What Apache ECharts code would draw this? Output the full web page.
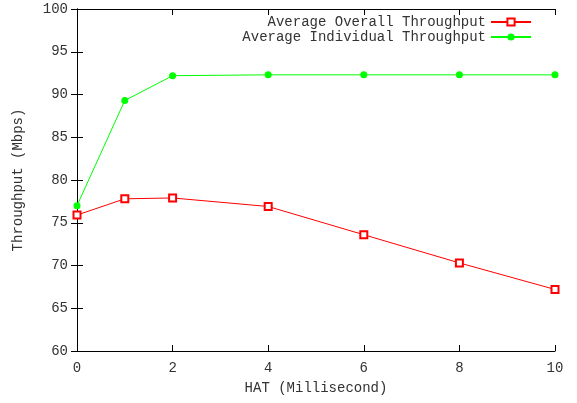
<!DOCTYPE html>
<html>
<head>
<meta charset="utf-8">
<script src="https://cdn.jsdelivr.net/npm/echarts@6/dist/echarts.min.js"></script>
<style>
html, body { margin: 0; padding: 0; background: #fff; }
#chart { width: 577px; height: 403px; }
</style>
</head>
<body>
<div id="chart"></div>
<script>
// 数据
const hatValues = [0, 1, 2, 4, 6, 8, 10];
const overallThroughput = [75.9, 77.8, 77.9, 76.9, 73.6, 70.3, 67.2];
const individualThroughput = [77.0, 89.3, 92.2, 92.3, 92.3, 92.3, 92.3];
const seriesNames = ['Average Overall Throughput', 'Average Individual Throughput'];

const font = 'Liberation Mono';
const ink = '#333';

function pairs(xs, ys) {
  return xs.map((x, i) => [x, ys[i]]);
}

const chart = echarts.init(document.getElementById('chart'));

const option = {
  backgroundColor: '#fff',
  animation: false,
  textStyle: { fontFamily: font, color: ink },
  grid: { left: 77, right: 22, top: 9, bottom: 52 },
  legend: [
    {
      data: [seriesNames[0]],
      right: 40, top: 10,
      align: 'right',
      itemWidth: 40, itemHeight: 9,
      textStyle: { fontFamily: font, fontSize: 14, color: ink }
    },
    {
      data: [seriesNames[1]],
      right: 40, top: 25,
      align: 'right',
      itemWidth: 40, itemHeight: 9,
      textStyle: { fontFamily: font, fontSize: 14, color: ink }
    }
  ],
  xAxis: [
    {
      type: 'value', min: 0, max: 10, interval: 2,
      name: 'HAT (Millisecond)', nameLocation: 'middle', nameGap: 30,
      nameTextStyle: { fontFamily: font, fontSize: 14, color: ink },
      axisLine: { lineStyle: { color: '#000', width: 1 } },
      axisTick: { inside: true, length: 6, lineStyle: { color: '#000' } },
      axisLabel: { fontFamily: font, fontSize: 14, color: ink, margin: 10 },
      splitLine: { show: false }
    },
    {
      type: 'value', min: 0, max: 10, interval: 2, position: 'top',
      axisLine: { show: true, lineStyle: { color: '#000', width: 1 } },
      axisTick: { inside: true, length: 6, lineStyle: { color: '#000' } },
      axisLabel: { show: false },
      splitLine: { show: false }
    }
  ],
  yAxis: [
    {
      type: 'value', min: 60, max: 100, interval: 5,
      name: 'Throughput (Mbps)', nameLocation: 'middle', nameGap: 52,
      nameTextStyle: { fontFamily: font, fontSize: 14, color: ink },
      axisLine: { show: true, lineStyle: { color: '#000', width: 1 } },
      axisTick: { show: true, inside: true, length: 6, lineStyle: { color: '#000' } },
      axisLabel: { fontFamily: font, fontSize: 14, color: ink, margin: 9 },
      splitLine: { show: false }
    },
    {
      type: 'value', min: 60, max: 100, interval: 5, position: 'right',
      axisLine: { show: true, lineStyle: { color: '#000', width: 1 } },
      axisTick: { show: true, inside: true, length: 6, lineStyle: { color: '#000' } },
      axisLabel: { show: false },
      splitLine: { show: false }
    }
  ],
  series: [
    {
      name: seriesNames[0],
      type: 'line',
      data: pairs(hatValues, overallThroughput),
      symbol: 'emptyRect', symbolSize: 7,
      itemStyle: { color: '#ff0000', borderWidth: 1 },
      lineStyle: { color: '#ff0000', width: 1 }
    },
    {
      name: seriesNames[1],
      type: 'line',
      data: pairs(hatValues, individualThroughput),
      symbol: 'circle', symbolSize: 7,
      itemStyle: { color: '#00ff00' },
      lineStyle: { color: '#00ff00', width: 1 }
    }
  ]
};

chart.setOption(option);
</script>
</body>
</html>
